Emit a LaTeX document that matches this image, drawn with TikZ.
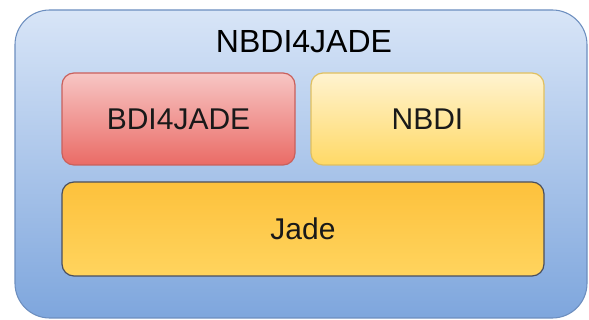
\documentclass[tikz,border=0pt]{standalone}
\usepackage{fontspec}
\setmainfont{Liberation Sans}
\usepackage{xcolor}
\usepackage{tikz}

\definecolor{outerTop}{HTML}{D8E5F7}
\definecolor{outerBot}{HTML}{7EA6DD}
\definecolor{outerLine}{HTML}{6C8EBF}
\definecolor{redTop}{HTML}{F7C6C4}
\definecolor{redBot}{HTML}{EA6B66}
\definecolor{redLine}{HTML}{C9605C}
\definecolor{yelTop}{HTML}{FFF3D0}
\definecolor{yelBot}{HTML}{FFD966}
\definecolor{yelLine}{HTML}{E0C060}
\definecolor{orgTop}{HTML}{FDC13C}
\definecolor{orgBot}{HTML}{FFD45E}
\definecolor{orgLine}{HTML}{4A4F5E}

\tikzset{
  box/.style={rectangle, rounded corners=9pt, line width=0.9pt, inner sep=0pt},
  label/.style={font=\fontsize{22.5}{26}\selectfont, text=black!90}
}

\begin{document}
\begin{tikzpicture}[x=0.75pt, y=-0.75pt]
			\useasboundingbox (0,0) rectangle (589,320);
			\node[rectangle, rounded corners=26pt, draw=outerLine, line width=0.8pt,
				top color=outerTop, bottom color=outerBot,
				minimum width=429pt, minimum height=231pt] (nbdijade) at (301,164) {};
			\node[font=\fontsize{24}{28}\selectfont] (title) at (304,42) {NBDI4JADE};
			\node[box, draw=redLine, top color=redTop, bottom color=redBot,
				minimum width=174.75pt, minimum height=69pt, label] (bdi) at (178.5,119) {BDI4JADE};
			\node[box, draw=yelLine, top color=yelTop, bottom color=yelBot,
				minimum width=174.75pt, minimum height=69pt, label] (nbdi) at (427.5,119) {NBDI};
			\node[box, draw=orgLine, top color=orgTop, bottom color=orgBot,
				minimum width=361.5pt, minimum height=70.5pt, label] (jade) at (303,229) {Jade};
		\end{tikzpicture}
\end{document}
